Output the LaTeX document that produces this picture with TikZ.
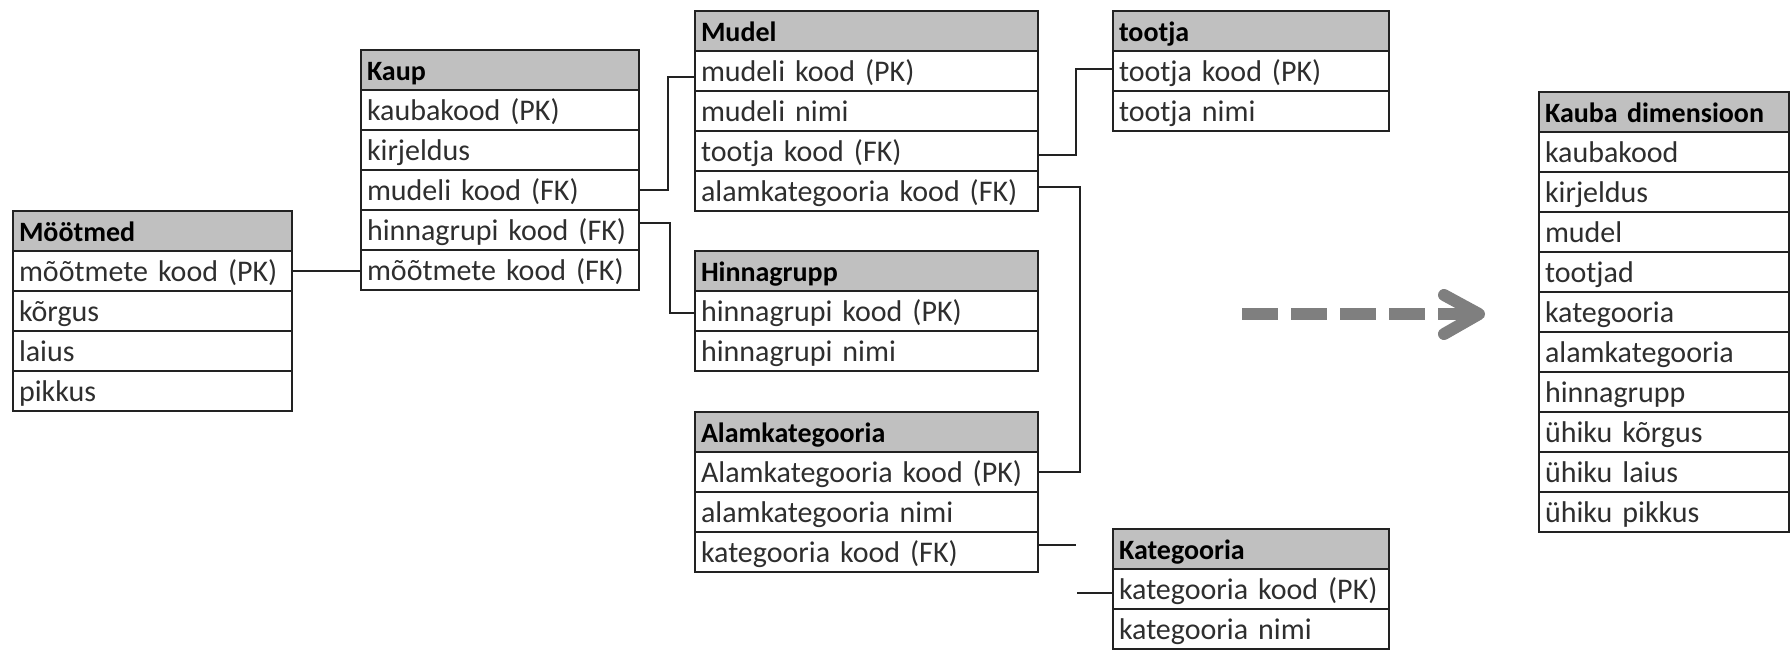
\documentclass[tikz,border=0pt]{standalone}
\usepackage{fontspec}
\setmainfont{Carlito}
\definecolor{linec}{HTML}{222222}
\definecolor{hdrgray}{HTML}{C0C0C0}
\definecolor{textc}{HTML}{2E2E2E}
\definecolor{arrowgray}{HTML}{7F7F7F}
\newcommand\rowfont{\fontsize{15}{18}\selectfont}
\newcommand\hdrfont{\fontsize{14}{17}\selectfont\bfseries}
% one table: name, top-left corner, text width, header, rows
\newcommand\erdtable[5]{%
  \node[hdr, text width=#3] (#1-0) at #2 {#4};
  \foreach \r [count=\i, remember=\i as \j (initially 0)] in {#5}
    \node[cell, text width=#3] (#1-\i) at (#1-\j.south west) {\r};
}
\tikzset{
  cell/.style={draw=linec, line width=1pt, rectangle, anchor=north west,
    outer sep=0pt, minimum height=20pt, inner xsep=3pt, inner ysep=0pt,
    text height=11pt, text depth=1pt, align=left, text=textc, font=\rowfont},
  hdr/.style={cell, fill=hdrgray, text=black, font=\hdrfont},
  conn/.style={draw=linec, line width=1pt},
  bigarrow/.style={draw=arrowgray, line width=6pt},
}
\begin{document}
\begin{tikzpicture}[x=0.5pt, y=-0.5pt]
\useasboundingbox (0,0) rectangle (1791,650);

% source tables
\erdtable{moot}{(13,211)}{133.5pt}{Möötmed}{mõõtmete kood (PK),kõrgus,laius,pikkus}
\erdtable{kaup}{(361,50)}{133pt}{Kaup}{kaubakood (PK),kirjeldus,mudeli kood (FK),hinnagrupi kood (FK),mõõtmete kood (FK)}
\erdtable{mudel}{(695,11)}{165.5pt}{Mudel}{mudeli kood (PK),mudeli nimi,tootja kood (FK),alamkategooria kood (FK)}
\erdtable{tootja}{(1113,11)}{132pt}{tootja}{tootja kood (PK),tootja nimi}
\erdtable{hinn}{(695,251)}{165.5pt}{Hinnagrupp}{hinnagrupi kood (PK),hinnagrupi nimi}
\erdtable{alam}{(695,412)}{165.5pt}{Alamkategooria}{Alamkategooria kood (PK),alamkategooria nimi,kategooria kood (FK)}
\erdtable{kat}{(1113,529)}{132pt}{Kategooria}{kategooria kood (PK),kategooria nimi}

% resulting dimension
\erdtable{kd}{(1539,92)}{119pt}{Kauba dimensioon}{kaubakood,kirjeldus,mudel,tootjad,kategooria,alamkategooria,hinnagrupp,ühiku kõrgus,ühiku laius,ühiku pikkus}

% key relations
\draw[conn] (moot-1.east) -- (moot-1.east -| kaup-5.west);
\draw[conn] (kaup-3.east) -- ++(29,0) |- ([yshift=-3pt]mudel-1.west);
\draw[conn] ([yshift=3.5pt]kaup-4.east) -- ++(31,0) |- ([yshift=-1pt]hinn-1.west);
\draw[conn] ([yshift=-2pt]mudel-3.east) -- ++(38,0) |- ([yshift=1pt]tootja-1.west);
\draw[conn] ([yshift=2pt]mudel-4.east) -- ++(42,0) |- (alam-1.east);
\draw[conn] ([yshift=3.5pt]alam-3.east) -- ++(38,0) coordinate (katA);
\draw[conn] ([yshift=-2pt]kat-1.west) -- ++(-36,0) coordinate (katB);

% transformation arrow
\coordinate (arrS) at (1242,314);
\coordinate (arrE) at (1470,314);
\coordinate (arrT) at (1479,314);
\draw[bigarrow, dash pattern=on 18pt off 6.5pt] (arrS) -- (arrE);
\draw[bigarrow, line cap=round, line join=round] (1444,295) -- (arrT) -- (1444,334);
\end{tikzpicture}
\end{document}
